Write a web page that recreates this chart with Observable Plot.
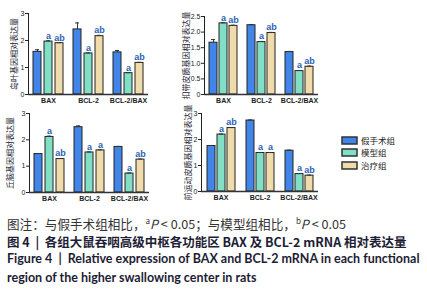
<!DOCTYPE html>
<html><head><meta charset="utf-8">
<script src="https://cdn.jsdelivr.net/npm/d3@7"></script>
<script src="https://cdn.jsdelivr.net/npm/@observablehq/plot@0.6"></script>
<style>
body{margin:0;background:#fff;}
#wrap{position:relative;width:427px;height:300px;overflow:hidden;font-family:"Noto Sans CJK SC","Noto Sans",sans-serif;}
.pn{position:absolute;}
.pn svg{overflow:visible;}
[aria-label="fx-axis tick label"]{font-weight:bold;}
[aria-label="y-axis label"]{font-size:8px;fill:#223;}
#legend{position:absolute;left:342px;top:134px;width:62px;}
#legend > div{margin:0 !important;min-height:0 !important;line-height:12.4px;}
#legend > div > span{margin:0 !important;line-height:12.4px;}
#legend svg{stroke:#333;stroke-width:1.5px;margin-right:4px !important;}
.cap{position:absolute;left:7px;white-space:nowrap;color:#222;line-height:16px;}
</style></head>
<body><div id="wrap">
<div class="pn" id="p1" style="left:0;top:0"></div>
<div class="pn" id="p2" style="left:160px;top:0"></div>
<div class="pn" id="p3" style="left:0;top:100px"></div>
<div class="pn" id="p4" style="left:160px;top:100px"></div>
<div id="legend"></div>
<div class="cap" style="top:216px;font-size:12.6px;color:#333">图注：与假手术组相比，<sup style="font-size:8px;line-height:0">a</sup><i>P</i> &lt; 0.05；与模型组相比，<sup style="font-size:8px;line-height:0">b</sup><i>P</i> &lt; 0.05</div>
<div class="cap" style="top:234px;font-size:12.5px;font-weight:bold;color:#1d1d35">图 4 &nbsp;|&nbsp; 各组大鼠吞咽高级中枢各功能区 BAX 及 BCL-2 mRNA 相对表达量</div>
<div class="cap" style="top:251px;font-size:12.5px;font-weight:bold;font-family:Lato,sans-serif;color:#1d1d35">Figure 4 &nbsp;|&nbsp; Relative expression of BAX and BCL-2 mRNA in each functional</div>
<div class="cap" style="top:270px;font-size:12.5px;font-weight:bold;font-family:Lato,sans-serif;color:#1d1d35">region of the higher swallowing center in rats</div>
</div>
<script>
const genes = ["BAX", "BCL-2", "BCL-2/BAX"];
const groups = ["假手术组", "模型组", "治疗组"];
const colors = ["#4285e8", "#80dfc4", "#efdcaa"];

// values per group, ordered by gene [BAX, BCL-2, BCL-2/BAX]
const p1Sham = [1.58, 2.41, 1.56], p1Model = [1.96, 1.52, 0.79], p1Treat = [1.90, 2.16, 1.17];
const p1ShamErr = [0.08, 0.24, 0.07], p1ModelErr = [0.03, 0.02, 0.02], p1TreatErr = [0.02, 0.03, 0.02];
const p2Sham = [1.66, 2.22, 1.36], p2Model = [2.28, 1.68, 0.75], p2Treat = [2.20, 1.97, 0.89];
const p2ShamErr = [0.10, 0.02, 0.02], p2ModelErr = [0.02, 0.02, 0.02], p2TreatErr = [0.02, 0.02, 0.02];
const p3Sham = [1.46, 2.48, 1.73], p3Model = [2.11, 1.52, 0.72], p3Treat = [1.27, 1.60, 1.25];
const p3ShamErr = [0.02, 0.05, 0.02], p3ModelErr = [0.03, 0.02, 0.02], p3TreatErr = [0.02, 0.02, 0.02];
const p4Sham = [1.75, 2.73, 1.57], p4Model = [2.19, 1.48, 0.67], p4Treat = [2.44, 1.48, 0.61];
const p4ShamErr = [0.02, 0.02, 0.02], p4ModelErr = [0.02, 0.02, 0.02], p4TreatErr = [0.02, 0.02, 0.02];

const sigSham = ["", "", ""];
const sigModel = ["a", "a", "a"];
const sigTreatA = ["ab", "ab", "ab"];
const sigTreatB = ["ab", "a", "ab"];

const yLabels = ["岛叶基因相对表达量", "扣带皮质基因相对表达量", "丘脑基因相对表达量", "前运动皮质基因相对表达量"];
const ticks3 = [0, 1, 2, 3];
const ticks25 = [0, 0.5, 1, 1.5, 2, 2.5];

function rows(vals, errs, sigs) {
  const out = [];
  genes.forEach((g, i) => groups.forEach((gr, k) => {
    out.push({gene: g, group: gr, value: vals[k][i], err: errs[k][i], sig: sigs[k][i]});
  }));
  return out;
}

function panel(el, data, o) {
  const fmt = d => d === 0 ? "0" : (o.dec ? d.toFixed(1) : String(d));
  const top = d => d.value + d.err;
  const chart = Plot.plot({
    width: o.width, height: 110,
    marginLeft: o.ml, marginRight: o.mr, marginTop: o.mt, marginBottom: o.mb,
    style: {fontFamily: "'Liberation Sans','Noto Sans CJK SC',sans-serif", fontSize: "7px", color: "#222", background: "transparent"},
    fx: {domain: genes, padding: 0, label: null, tickSize: 0, tickPadding: 4, axis: "bottom"},
    x: {domain: groups, paddingInner: 0.25, paddingOuter: 0.42, axis: null},
    y: {domain: o.domain, ticks: o.ticks, tickFormat: fmt, tickSize: 3, tickPadding: 1, line: true,
        label: o.label, labelAnchor: "center", labelOffset: o.lo, labelArrow: "none"},
    color: {domain: groups, range: colors},
    marks: [
      Plot.barY(data, {fx: "gene", x: "group", y: "value", fill: "group", stroke: "#222", strokeWidth: 1}),
      Plot.ruleX(data, {fx: "gene", x: "group", y1: "value", y2: top, stroke: "#333"}),
      Plot.tickY(data, {fx: "gene", x: "group", y: top, insetLeft: 2, insetRight: 2, stroke: "#333"}),
      Plot.text(data, {fx: "gene", x: "group", y: top, text: "sig", dy: -5, fill: "#2a62b5", fontWeight: "bold", fontSize: 9}),
      Plot.ruleY([0], {stroke: "#333", strokeWidth: 1.5})
    ]
  });
  document.getElementById(el).appendChild(chart);
}

panel("p1", rows([p1Sham, p1Model, p1Treat], [p1ShamErr, p1ModelErr, p1TreatErr], [sigSham, sigModel, sigTreatA]),
  {width: 155, ml: 27, mr: 7, mt: 13, mb: 16, domain: [0, 3], ticks: ticks3, label: yLabels[0], lo: 17});
panel("p2", rows([p2Sham, p2Model, p2Treat], [p2ShamErr, p2ModelErr, p2TreatErr], [sigSham, sigModel, sigTreatA]),
  {width: 160, ml: 43, mr: 2, mt: 16, mb: 16, domain: [0, 2.5], ticks: ticks25, dec: true, label: yLabels[1], lo: 21});
panel("p3", rows([p3Sham, p3Model, p3Treat], [p3ShamErr, p3ModelErr, p3TreatErr], [sigSham, sigModel, sigTreatB]),
  {width: 155, ml: 28, mr: 5, mt: 13, mb: 18, domain: [0, 3], ticks: ticks3, label: yLabels[2], lo: 22});
panel("p4", rows([p4Sham, p4Model, p4Treat], [p4ShamErr, p4ModelErr, p4TreatErr], [sigSham, sigModel, sigTreatB]),
  {width: 160, ml: 40, mr: 2, mt: 13, mb: 19, domain: [0, 3], ticks: ticks3, label: yLabels[3], lo: 16});

const leg = Plot.legend({
  color: {domain: groups, range: colors},
  legend: "swatches", swatchWidth: 15, swatchHeight: 7,
  style: {fontSize: "8.5px", fontFamily: "'Noto Sans CJK SC',sans-serif", color: "#222"}
});
document.getElementById("legend").appendChild(leg);
</script>
</body></html>
